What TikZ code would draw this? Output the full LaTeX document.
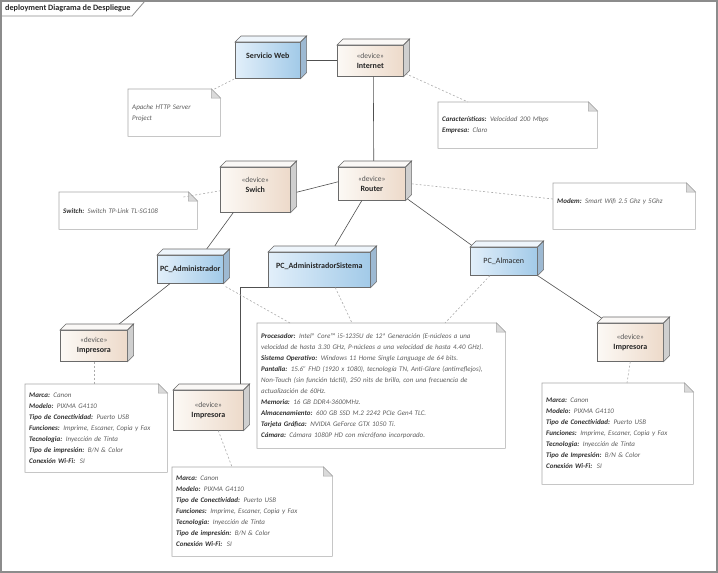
\documentclass[tikz,border=0pt]{standalone}
\usepackage{fontspec}
\setmainfont{Carlito}
\usetikzlibrary{calc}

\definecolor{blueA}{HTML}{E2EFFA}
\definecolor{blueB}{HTML}{A2CAE8}
\definecolor{blueT}{HTML}{EEF5FB}
\definecolor{blueR}{HTML}{9DB9D2}
\definecolor{devA}{HTML}{FCF9F5}
\definecolor{devB}{HTML}{EDDACA}
\definecolor{devT}{HTML}{FAF8F6}
\definecolor{devR}{HTML}{CFCFCF}
\definecolor{boxline}{HTML}{6A6A6A}
\definecolor{noteline}{HTML}{A8A8A8}
\definecolor{foldfill}{HTML}{DADADA}
\definecolor{linkgray}{HTML}{505050}
\definecolor{tracegray}{HTML}{ABABAB}
\definecolor{tagdark}{HTML}{303030}
\definecolor{valgray}{HTML}{5E5E5E}
\definecolor{tagcol}{HTML}{555555}
\definecolor{framegray}{HTML}{8C8C8C}

\newcommand{\devtag}{{\color{tagcol}\fontsize{7.5}{10}\selectfont«device»}}
\newcommand{\ntag}[1]{{\bfseries\color{tagdark}#1:}}
\newcommand{\impnote}[1]{\ntag{Marca} Canon\\
  \ntag{Modelo} PIXMA G4110\\
  \ntag{Tipo de Conectividad} Puerto USB\\
  \ntag{Funciones} Imprime, Escaner, Copia y Fax\\
  \ntag{Tecnologia} Inyección de Tinta\\
  \ntag{#1} B/N \& Color\\
  \ntag{Conexión Wi-Fi}\ \ SI}

\begin{document}
\begin{tikzpicture}[x=1pt, y=-1pt,
  every node/.style={inner sep=2pt, text=black!85},
  pcnode/.style={draw=boxline, line width=0.6pt, left color=blueA, right color=blueB,
    anchor=north west, font=\fontsize{8}{9}\selectfont\bfseries},
  devnode/.style={draw=boxline, line width=0.6pt, left color=devA, right color=devB,
    anchor=north west, align=center, font=\fontsize{8}{10}\selectfont},
  notebox/.style={anchor=north west, fill=white, inner sep=4pt, align=left,
    font=\fontsize{7}{11}\selectfont\itshape, text=valgray},
  link/.style={draw=linkgray, line width=0.6pt},
  trace/.style={draw=tracegray, line width=0.6pt, dash pattern=on 2pt off 2pt}]

\useasboundingbox (0,0) rectangle (718,573);

% frame and tab
\draw[framegray, line width=1.4pt] (1,1) rectangle (717,572);
\node[anchor=west, font=\fontsize{8.2}{9}\selectfont\bfseries] (title) at (3,8.5) {deployment Diagrama de Despliegue};
\draw[framegray, line width=0.8pt] (1,16) -- (132,16) -- (145,1);

% nodes
\node[pcnode, minimum width=65pt, minimum height=36pt, text depth=9pt] (web) at (235,42) {Servicio Web};
\node[devnode, minimum width=66pt, minimum height=31pt] (internet) at (337,45) {\devtag\\\textbf{Internet}};
\node[devnode, minimum width=70pt, minimum height=45pt, text depth=10pt] (switch) at (220,167) {\devtag\\\textbf{Swich}};
\node[devnode, minimum width=67pt, minimum height=33pt] (router) at (338,167) {\devtag\\\textbf{Router}};
\node[pcnode, minimum width=66pt, minimum height=28pt] (pcadm) at (157,255) {PC\_Administrador};
\node[pcnode, minimum width=102pt, minimum height=35pt, text depth=8pt] (pcsys) at (268,252) {PC\_AdministradorSistema};
\node[pcnode, minimum width=67pt, minimum height=28pt, font=\fontsize{8}{9}\selectfont] (pcalm) at (470,247) {PC\_Almacen};
\node[devnode, minimum width=67pt, minimum height=31pt] (imp1) at (60,330) {\devtag\\\textbf{Impresora}};
\node[devnode, minimum width=70pt, minimum height=40pt] (imp2) at (173,390) {\devtag\\\textbf{Impresora}};
\node[devnode, minimum width=66pt, minimum height=38pt] (imp3) at (597,323) {\devtag\\\textbf{Impresora}};

% notes
\node[notebox, text width=84pt, minimum height=47pt] (nweb) at (128,89) {Apache HTTP Server\\Project};
\node[notebox, text width=151pt, minimum height=46pt] (nint) at (438,102) {\ntag{Características} Velocidad 200 Mbps\\\ntag{Empresa} Claro};
\node[notebox, text width=130pt, minimum height=37pt] (nswitch) at (59,192) {\ntag{Switch} Switch TP-Link TL-SG108};
\node[notebox, text width=134pt, minimum height=46pt, text depth=10pt] (nmodem) at (553,183) {\ntag{Modem} Smart Wifi 2.5 Ghz y 5Ghz};
\node[notebox, text width=240pt, minimum height=125pt] (nbig) at (257,323) {%
  \ntag{Procesador} Intel® Core™ i5-1235U de 12ª Generación (E-núcleos a una\\
  velocidad de hasta 3.30 GHz, P-núcleos a una velocidad de hasta 4.40 GHz).\\
  \ntag{Sistema Operativo} Windows 11 Home Single Language de 64 bits.\\
  \ntag{Pantalla} 15.6” FHD (1920 x 1080), tecnología TN, Anti-Glare (antirreflejos),\\
  Non-Touch (sin función táctil), 250 nits de brillo, con una frecuencia de\\
  actualización de 60Hz.\\
  \ntag{Memoria} 16 GB DDR4-3600MHz.\\
  \ntag{Almacenamiento} 600 GB SSD M.2 2242 PCIe Gen4 TLC.\\
  \ntag{Tarjeta Gráfica} NVIDIA GeForce GTX 1050 Ti.\\
  \ntag{Cámara} Cámara 1080P HD con micrófono incorporado.};
\node[notebox, text width=134pt, minimum height=88pt] (n1) at (25,384) {\impnote{Tipo de impresión}};
\node[notebox, text width=152pt, minimum height=89pt] (n2) at (172,467) {\impnote{Tipo de impresión}};
\node[notebox, text width=143pt, minimum height=101pt] (n3) at (542,383) {\impnote{Tipo de Impresión}};

\foreach \n in {nweb,nint,nswitch,nmodem,nbig,n1,n2,n3} {
  \draw[noteline, line width=0.6pt] (\n.south west) -- (\n.north west) -- ([xshift=-9pt]\n.north east)
    -- ([yshift=-9pt]\n.north east) -- (\n.south east) -- cycle;
  \filldraw[draw=noteline, fill=foldfill, line width=0.5pt] ([xshift=-9pt]\n.north east)
    -- ([xshift=-9pt,yshift=-9pt]\n.north east) -- ([yshift=-9pt]\n.north east) -- cycle;
}

% connectors
\draw[link] (web.east) -- (web.east -| internet.west);
\draw[link] ([xshift=3pt]internet.south) -- ([xshift=2pt]router.north);
\draw[link] ([yshift=-4pt]switch.east) -- ([yshift=2pt]router.west);
\draw[link] ([xshift=-22pt]switch.south) -- ([xshift=12pt]pcadm.north);
\draw[link] ([xshift=-10pt]router.south) -- ([xshift=12pt]pcsys.north);
\draw[link] ([yshift=3pt]router.south east) -- ([xshift=4pt]pcalm.north west);
\draw[link] ([xshift=13pt]pcadm.south west) -- ([xshift=-16pt]imp1.north east);
\draw[link] (pcsys.south west) -| ([xshift=-3pt]imp2.north east);
\draw[link] (pcalm.south east) -- ([xshift=12pt]imp3.north west);

% note links
\draw[trace] ([xshift=-6pt]nweb.north east) -- (web.south west);
\draw[trace] ([xshift=2pt,yshift=3pt]internet.south east) -- ([xshift=30pt]nint.north west);
\draw[trace] ([xshift=-14pt,yshift=-5pt]nswitch.north east) -- ([yshift=-1pt]switch.west);
\draw[trace] ([xshift=6pt]router.east) -- ([yshift=-16pt]nmodem.north west);
\draw[trace] ([xshift=2pt,yshift=-3pt]pcadm.south east) -- ([xshift=33pt]nbig.north west);
\draw[trace] ([xshift=16pt]pcsys.south) -- ([xshift=95pt]nbig.north west);
\draw[trace] ([xshift=20pt]pcalm.south west) -- ([xshift=188pt]nbig.north west);
\draw[trace] (imp1.south) -- (imp1.south |- n1.north);
\draw[trace] ([xshift=10pt]imp2.south) -- ([xshift=60pt]n2.north west);
\draw[trace] (imp3.south) -- ([xshift=85pt]n3.north west);

% box depth
\foreach \n/\tf/\rf in {web/blueT/blueR, pcadm/blueT/blueR, pcsys/blueT/blueR, pcalm/blueT/blueR,
    internet/devT/devR, switch/devT/devR, router/devT/devR, imp1/devT/devR, imp2/devT/devR, imp3/devT/devR} {
  \filldraw[draw=boxline, fill=\tf, line width=0.6pt] (\n.north west) -- ++(6,-6)
    -- ($(\n.north east)+(6,-6)$) -- (\n.north east) -- cycle;
  \filldraw[draw=boxline, fill=\rf, line width=0.6pt] (\n.north east) -- ++(6,-6)
    -- ($(\n.south east)+(6,-6)$) -- (\n.south east) -- cycle;
}
\end{tikzpicture}
\end{document}
